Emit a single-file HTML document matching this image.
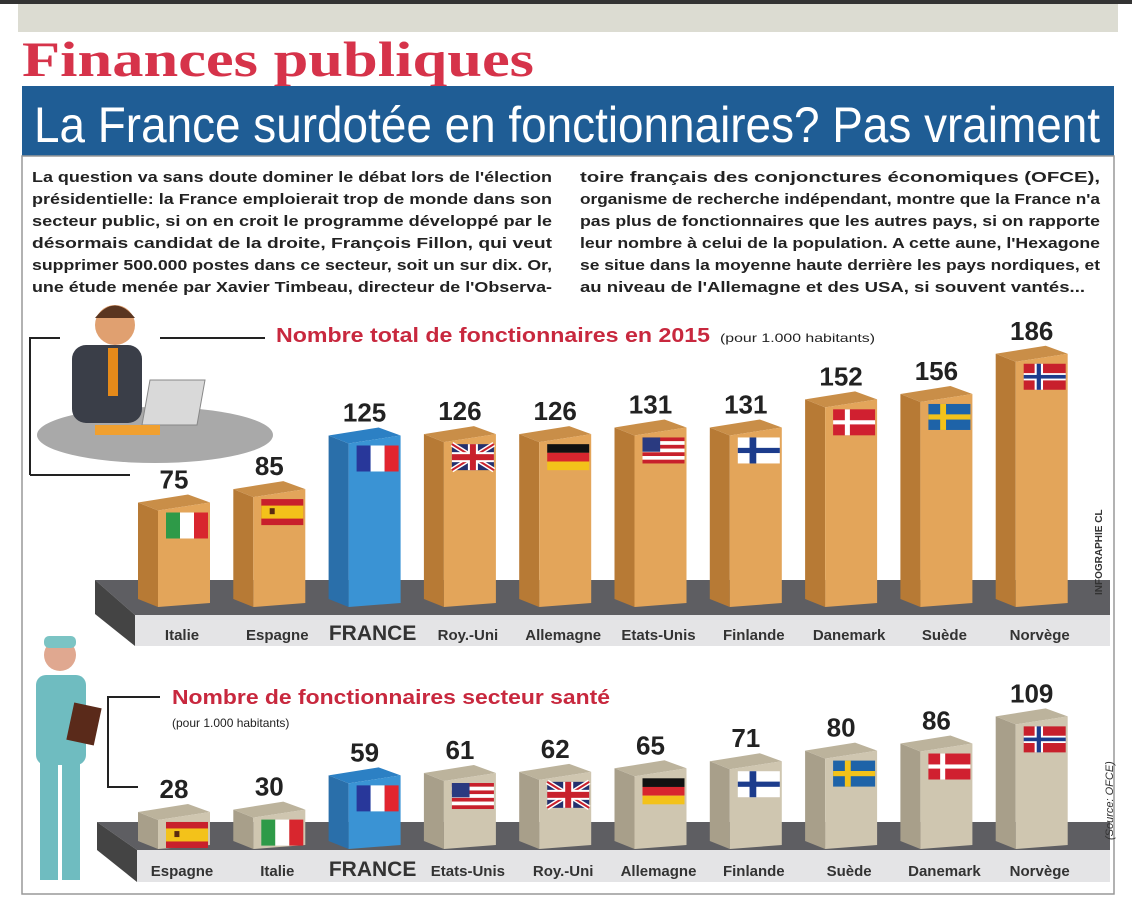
<!DOCTYPE html>
<html><head><meta charset="utf-8">
<style>
body{margin:0;background:#fff;width:1132px;height:914px;overflow:hidden;font-family:"Liberation Sans",sans-serif}
</style></head>
<body>
<svg width="1132" height="914" viewBox="0 0 1132 914" xmlns="http://www.w3.org/2000/svg">
<rect x="0" y="0" width="1132" height="4" fill="#333"/>
<rect x="18" y="4" width="1100" height="28" fill="#dcdcd2"/>
<text x="22" y="76" font-family="Liberation Serif,serif" font-weight="bold" font-size="50" fill="#d6334a" textLength="512" lengthAdjust="spacingAndGlyphs">Finances publiques</text>
<rect x="22" y="86" width="1092" height="70" fill="#1f5d95"/>
<text x="34" y="142" font-size="50" fill="#fff" textLength="1066" lengthAdjust="spacingAndGlyphs">La France surdotée en fonctionnaires? Pas vraiment</text>
<rect x="22" y="156" width="1092" height="738" fill="none" stroke="#999" stroke-width="1.5"/>
<g font-size="15" font-weight="bold" fill="#222">
<text x="32" y="182" textLength="520" lengthAdjust="spacingAndGlyphs">La question va sans doute dominer le débat lors de l'élection</text>
<text x="32" y="204" textLength="520" lengthAdjust="spacingAndGlyphs">présidentielle: la France emploierait trop de monde dans son</text>
<text x="32" y="226" textLength="520" lengthAdjust="spacingAndGlyphs">secteur public, si on en croit le programme développé par le</text>
<text x="32" y="248" textLength="520" lengthAdjust="spacingAndGlyphs">désormais candidat de la droite, François Fillon, qui veut</text>
<text x="32" y="270" textLength="520" lengthAdjust="spacingAndGlyphs">supprimer 500.000 postes dans ce secteur, soit un sur dix. Or,</text>
<text x="32" y="292" textLength="520" lengthAdjust="spacingAndGlyphs">une étude menée par Xavier Timbeau, directeur de l'Observa-</text>
<text x="580" y="182" textLength="520" lengthAdjust="spacingAndGlyphs">toire français des conjonctures économiques (OFCE),</text>
<text x="580" y="204" textLength="520" lengthAdjust="spacingAndGlyphs">organisme de recherche indépendant, montre que la France n'a</text>
<text x="580" y="226" textLength="520" lengthAdjust="spacingAndGlyphs">pas plus de fonctionnaires que les autres pays, si on rapporte</text>
<text x="580" y="248" textLength="520" lengthAdjust="spacingAndGlyphs">leur nombre à celui de la population. A cette aune, l'Hexagone</text>
<text x="580" y="270" textLength="520" lengthAdjust="spacingAndGlyphs">se situe dans la moyenne haute derrière les pays nordiques, et</text>
<text x="580" y="292" textLength="505" lengthAdjust="spacingAndGlyphs">au niveau de l'Allemagne et des USA, si souvent vantés...</text>
</g>
<g>
<ellipse cx="155" cy="435" rx="118" ry="28" fill="#a9a9a9"/>
<rect x="72" y="345" width="70" height="78" rx="14" fill="#3a3e48"/>
<circle cx="115" cy="325" r="20" fill="#e0a070"/>
<path d="M95 318 q20 -25 40 0 z" fill="#5a3520"/>
<rect x="108" y="348" width="10" height="48" fill="#e58a1a"/>
<path d="M150 380 h55 l-8 45 h-55 z" fill="#d9d9d9" stroke="#888"/>
<rect x="95" y="425" width="65" height="10" fill="#f0a030"/>
</g>
<path d="M30 475 V338 H60 M160 338 H265 M30 475 H130" fill="none" stroke="#222" stroke-width="2"/>
<text x="276" y="342" font-size="20" font-weight="bold" fill="#c8283e" textLength="434" lengthAdjust="spacingAndGlyphs">Nombre total de fonctionnaires en 2015</text>
<text x="720" y="342" font-size="12" fill="#222" textLength="155" lengthAdjust="spacingAndGlyphs">(pour 1.000 habitants)</text>
<g>
<circle cx="60" cy="655" r="16" fill="#e0a890"/>
<rect x="44" y="636" width="32" height="12" rx="5" fill="#7bc4c4"/>
<rect x="36" y="675" width="50" height="90" rx="10" fill="#6fbcc0"/>
<rect x="40" y="760" width="18" height="120" fill="#6fbcc0"/>
<rect x="62" y="760" width="18" height="120" fill="#6fbcc0"/>
<rect x="70" y="705" width="28" height="38" fill="#5a2a1a" transform="rotate(12 84 724)"/>
</g>
<path d="M160 697 H108 V787 H138" fill="none" stroke="#222" stroke-width="2"/>
<text x="172" y="704" font-size="20" font-weight="bold" fill="#c8283e" textLength="438" lengthAdjust="spacingAndGlyphs">Nombre de fonctionnaires secteur santé</text>
<text x="172" y="727" font-size="12" fill="#222">(pour 1.000 habitants)</text>
<g id="c1"></g>
<g id="c2"></g>
<text x="1102" y="595" font-size="10" font-weight="bold" fill="#333" transform="rotate(-90 1102 595)">INFOGRAPHIE CL</text>
<text x="1113" y="840" font-size="11" font-style="italic" fill="#333" transform="rotate(-90 1113 840)">(Source: OFCE)</text>
</svg>
<script>
const cats1=["Italie","Espagne","FRANCE","Roy.-Uni","Allemagne","Etats-Unis","Finlande","Danemark","Suède","Norvège"];
const vals1=[75,85,125,126,126,131,131,152,156,186];
const flags1=["it","es","fr","uk","de","us","fi","dk","se","no"];
const cats2=["Espagne","Italie","FRANCE","Etats-Unis","Roy.-Uni","Allemagne","Finlande","Suède","Danemark","Norvège"];
const vals2=[28,30,59,61,62,65,71,80,86,109];
const flags2=["es","it","fr","us","uk","de","fi","se","dk","no"];
const NS="http://www.w3.org/2000/svg";
function mk(p,t,a){const e=document.createElementNS(NS,t);for(const k in a)e.setAttribute(k,a[k]);p.appendChild(e);return e;}
function flag(g,code,x,y,w,h){
  const f=mk(g,"g",{});
  const s=(c,xx,yy,ww,hh)=>mk(f,"rect",{x:xx,y:yy,width:ww,height:hh,fill:c});
  if(code=="it"){s("#2e9a48",x,y,w/3,h);s("#fff",x+w/3,y,w/3,h);s("#d8262e",x+2*w/3,y,w/3,h);}
  else if(code=="fr"){s("#28379a",x,y,w/3,h);s("#fff",x+w/3,y,w/3,h);s("#e2252f",x+2*w/3,y,w/3,h);}
  else if(code=="es"){s("#c8202c",x,y,w,h);s("#f3c21a",x,y+h/4,w,h/2);s("#5a2a10",x+w*0.2,y+h*0.35,5,6);}
  else if(code=="de"){s("#111",x,y,w,h/3);s("#d8262e",x,y+h/3,w,h/3);s("#f3c21a",x,y+2*h/3,w,h/3);}
  else if(code=="uk"){s("#24306e",x,y,w,h);mk(f,"path",{d:`M${x} ${y}L${x+w} ${y+h}M${x+w} ${y}L${x} ${y+h}`,stroke:"#fff","stroke-width":5});mk(f,"path",{d:`M${x} ${y}L${x+w} ${y+h}M${x+w} ${y}L${x} ${y+h}`,stroke:"#c8202c","stroke-width":2});s("#fff",x+w/2-5,y,10,h);s("#fff",x,y+h/2-5,w,10);s("#c8202c",x+w/2-3,y,6,h);s("#c8202c",x,y+h/2-3,w,6);}
  else if(code=="us"){for(let i=0;i<7;i++)s(i%2?"#fff":"#c8202c",x,y+i*h/7,w,h/7);s("#2a3a80",x,y,w*0.42,h*0.55);}
  else if(code=="fi"){s("#fff",x,y,w,h);s("#1c3c8c",x+w*0.28,y,w*0.16,h);s("#1c3c8c",x,y+h*0.4,w,h*0.2);}
  else if(code=="dk"){s("#d02030",x,y,w,h);s("#fff",x+w*0.28,y,w*0.12,h);s("#fff",x,y+h*0.42,w,h*0.16);}
  else if(code=="se"){s("#1e63a8",x,y,w,h);s("#f3c21a",x+w*0.28,y,w*0.14,h);s("#f3c21a",x,y+h*0.4,w,h*0.2);}
  else if(code=="no"){s("#c8202c",x,y,w,h);s("#fff",x+w*0.26,y,w*0.2,h);s("#fff",x,y+h*0.36,w,h*0.28);s("#1c3c8c",x+w*0.31,y,w*0.1,h);s("#1c3c8c",x,y+h*0.43,w,h*0.14);}
}
function chart(id,cats,vals,flags,o){
  const g=document.getElementById(id);
  const platform=mk(g,"path",{d:`M${o.px} ${o.top} H1110 V${o.base} H${o.px+40} Z`,fill:"#5e5e62"});
  
  
  mk(g,"path",{d:`M${o.px} ${o.top} L${o.px+40} ${o.base} V${o.lab+6} L${o.px} ${o.lab-26} Z`,fill:"#444"});
  const band=mk(g,"rect",{x:o.px+40,y:o.base,width:1110-o.px-40,height:o.lab+6-o.base,fill:"#e4e4e6"});
  
  
  const yS=v=>o.bottom-v*o.k;
  cats.forEach((c,i)=>{
    const x=o.x0+i*o.dx, v=vals[i], yt=yS(v), fr=c=="FRANCE";
    const front=fr?"#3a93d4":o.col, side=fr?"#2a6faa":o.side, top=fr?"#2c80c4":o.topc;
    const b=mk(g,"g",{});
    
    
    mk(b,"path",{d:`M${x} ${yt} L${x+20} ${yt+8} V${o.bottom+4} L${x} ${o.bottom-4} Z`,fill:side});
    mk(b,"path",{d:`M${x} ${yt} L${x+50} ${yt-8} L${x+72} ${yt} L${x+20} ${yt+8} Z`,fill:top});
    mk(b,"path",{d:`M${x+20} ${yt+8} L${x+72} ${yt} V${o.bottom} L${x+20} ${o.bottom+4} Z`,fill:front});
    flag(b,flags[i],x+28,yt+10,42,o.fh);
    const vt=mk(g,"text",{x:x+36,y:yt-14,"text-anchor":"middle","font-size":26,"font-weight":"bold",fill:"#222"});
    vt.textContent=v;
    
    
    const lt=mk(g,"text",{x:x+44,y:o.lab,"text-anchor":"middle","font-size":fr?21:15,"font-weight":"bold",fill:"#333"});
    lt.textContent=c;
    
    
  });
}
chart("c1",cats1,vals1,flags1,{x0:138,dx:95.3,bottom:603,k:1.34,px:95,top:580,base:615,lab:640,col:"#e3a55a",side:"#b77a35",topc:"#c98e48",fh:26});
chart("c2",cats2,vals2,flags2,{x0:138,dx:95.3,bottom:845,k:1.18,px:97,top:822,base:850,lab:876,col:"#cfc6b0",side:"#a89f8a",topc:"#bcb39c",fh:26});
</script>
</body></html>
